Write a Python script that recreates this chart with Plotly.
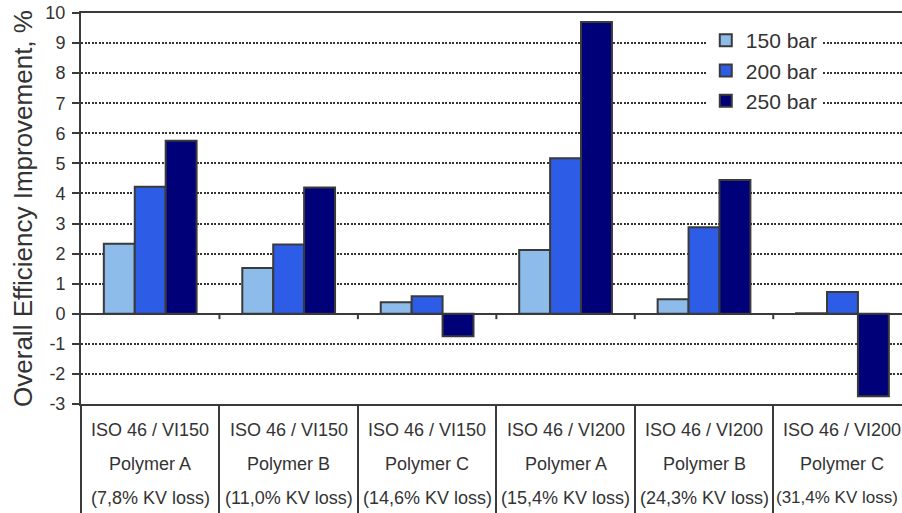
import plotly.graph_objects as go

# Category labels (three text rows under each group)
oil_grades = ["ISO 46 / VI150", "ISO 46 / VI150", "ISO 46 / VI150",
              "ISO 46 / VI200", "ISO 46 / VI200", "ISO 46 / VI200"]
polymers = ["Polymer A", "Polymer B", "Polymer C",
            "Polymer A", "Polymer B", "Polymer C"]
kv_losses = ["(7,8% KV loss)", "(11,0% KV loss)", "(14,6% KV loss)",
             "(15,4% KV loss)", "(24,3% KV loss)", "(31,4% KV loss)"]

# Overall efficiency improvement, % at each pressure level
series_names = ["150 bar", "200 bar", "250 bar"]
eff_150 = [2.33, 1.52, 0.38, 2.12, 0.48, 0.02]
eff_200 = [4.22, 2.30, 0.58, 5.17, 2.88, 0.72]
eff_250 = [5.75, 4.20, -0.75, 9.70, 4.45, -2.74]

y_ticks = list(range(-3, 11))

categories = [f"{a} {b} {c}" for a, b, c in zip(oil_grades, polymers, kv_losses)]

fill_colors = ["#8DBCEA", "#2D5CE6", "#000078"]
edge_color = "#3a3a3a"
text_color = "#333333"
font_family = "Liberation Sans, Arial, sans-serif"

fig = go.Figure()
for name, vals, col in zip(series_names, [eff_150, eff_200, eff_250], fill_colors):
    fig.add_trace(go.Bar(
        x=categories, y=vals, name=name, legendgroup=name,
        marker=dict(color=col, line=dict(color=edge_color, width=2)),
    ))

# small tick marks on the zero line between groups
shapes = []
for k in range(len(categories) - 1):
    shapes.append(dict(type="line", xref="x", yref="y",
                       x0=k + 0.5, x1=k + 0.5, y0=0, y1=-0.18,
                       line=dict(color=edge_color, width=2)))

# three-row category table below the plot; the last column sits at the
# right edge of the figure, so its widest row is slightly smaller and nudged
# inwards to stay visible
annotations = []
row_y = [-0.066, -0.153, -0.240]
for i, cat in enumerate(categories):
    for r, (rows, yy) in enumerate(zip([oil_grades, polymers, kv_losses], row_y)):
        edge_row = (i == len(categories) - 1 and r == 2)
        annotations.append(dict(
            x=cat, y=yy, xref="x", yref="paper", text=rows[i],
            showarrow=False, xanchor="center", yanchor="middle",
            xshift=-5 if edge_row else 0,
            font=dict(size=17 if edge_row else 18, color=text_color,
                      family=font_family),
        ))

fig.update_layout(
    width=902, height=513,
    margin=dict(l=81, r=0, t=13, b=109),
    paper_bgcolor="white", plot_bgcolor="white",
    font=dict(family=font_family, color=text_color),
    barmode="group", bargap=0.33, bargroupgap=0,
    showlegend=True,
    legend=dict(
        x=0.761, y=0.982, xanchor="left", yanchor="top",
        bgcolor="white", borderwidth=0,
        font=dict(size=21, color=text_color, family=font_family),
        traceorder="grouped", tracegroupgap=0,
        itemclick=False,
    ),
    shapes=shapes,
    annotations=annotations,
)

fig.update_xaxes(
    type="category", categoryorder="array", categoryarray=categories,
    range=[-0.5, 5.43],
    showticklabels=False, showgrid=False,
    ticks="outside", tickson="boundaries", ticklen=110,
    tickcolor=edge_color, tickwidth=2,
    showline=True, linecolor=edge_color, linewidth=2, mirror=True,
    zeroline=False,
)
fig.update_yaxes(
    range=[-3, 10], tickvals=y_ticks, ticktext=[str(v) for v in y_ticks],
    ticks="outside", ticklen=7, tickcolor=edge_color, tickwidth=2,
    ticklabelstandoff=3,
    tickfont=dict(size=18, color=text_color, family=font_family),
    showline=True, linecolor=edge_color, linewidth=2,
    showgrid=True, gridcolor="#333333", gridwidth=2, griddash="2px,1.5px",
    zeroline=True, zerolinecolor=edge_color, zerolinewidth=2,
    title=dict(text="Overall Efficiency Improvement, %",
               font=dict(size=26, color=text_color, family=font_family),
               standoff=5),
)

fig.write_html("out.html")
